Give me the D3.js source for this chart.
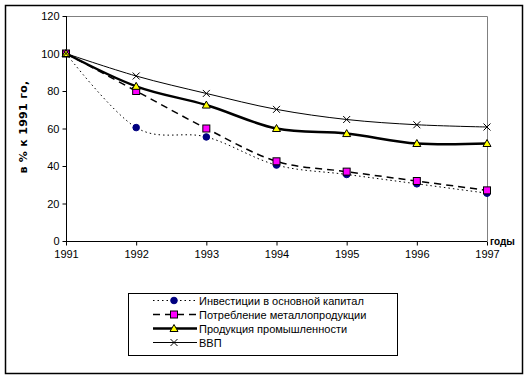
<!DOCTYPE html>
<html><head><meta charset="utf-8">
<script src="https://cdn.jsdelivr.net/npm/d3@7"></script>
<style>body{margin:0;background:#fff}svg{display:block}text{font-family:"Liberation Sans",Arial,sans-serif}</style>
</head><body><svg id="c" width="530" height="380"></svg>
<script>
const years = [1991, 1992, 1993, 1994, 1995, 1996, 1997];
const invest = [100, 60.5, 55.5, 40.5, 35.5, 30.5, 25.5];
const metal = [100, 80, 60, 42.5, 37, 32, 27];
const industry = [100, 82.5, 72.5, 60, 57.3, 52, 52];
const gdp = [100, 88, 78.7, 70.2, 64.8, 62, 60.8];
const yTicks = [0, 20, 40, 60, 80, 100, 120];
const seriesNames = ["Инвестиции в основной капитал", "Потребление металлопродукции", "Продукция промышленности", "ВВП"];
const yLabel = "в % к 1991 го,";
const xLabel = "годы";

const svg = d3.select("#c");
svg.append("rect").attr("x",5.5).attr("y",5.5).attr("width",517).attr("height",368).attr("fill","#fff").attr("stroke","#000").attr("stroke-width",1.5);

const L=66, R=487, T=16, B=241;
const x = d3.scaleLinear().domain([1991,1997]).range([L,R]);
const y = d3.scaleLinear().domain([0,120]).range([B,T]);

svg.append("path").attr("d",`M${L},${T+0.5}H${R+0.5}V${B}`).attr("fill","none").attr("stroke","#808080").attr("stroke-width",1);

const gy = svg.append("g").attr("transform",`translate(${L+0.5},0)`).call(d3.axisLeft(y).tickValues(yTicks).tickSize(4).tickPadding(3).tickFormat(d3.format("d")));
const gx = svg.append("g").attr("transform",`translate(0,${B+0.5})`).call(d3.axisBottom(x).tickValues(years).tickSize(4).tickPadding(5).tickFormat(d3.format("d")));
[gy,gx].forEach(g=>{g.selectAll("text").attr("font-size",11).attr("fill","#000").style("font-family","'Liberation Sans',Arial,sans-serif");g.selectAll("line,path").attr("stroke","#000");});
gx.select(".domain").attr("d",`M${L},0H${R}`);
gy.select(".domain").attr("d",`M0,${T}V${B}`);

svg.append("text").attr("transform","translate(27,127) rotate(-90)").attr("text-anchor","middle").attr("font-size",11).attr("font-weight","bold").style("font-family","'DejaVu Sans',sans-serif").attr("letter-spacing",0.3).text(yLabel);
svg.append("text").attr("x",490).attr("y",245).attr("font-size",10).attr("font-weight","bold").text(xLabel);

const styles = [
  {data:invest, width:1, dash:"1.5,3", marker:"circle", fill:"#000080"},
  {data:metal, width:1.5, dash:"7,5", marker:"square", fill:"#ff00ff"},
  {data:industry, width:2.5, dash:null, marker:"triangle", fill:"#ffff00"},
  {data:gdp, width:1, dash:null, marker:"cross", fill:"none"}
];
const line = d3.line().x((d,i)=>x(years[i])).y(d=>y(d)).curve(d3.curveCatmullRom.alpha(0));

function drawMarker(g, type, cx, cy, fill){
  if(type==="circle") g.append("circle").attr("cx",cx).attr("cy",cy).attr("r",3.3).attr("fill",fill).attr("stroke","#000080");
  else if(type==="square") g.append("rect").attr("x",cx-3.5).attr("y",cy-3.5).attr("width",7).attr("height",7).attr("fill",fill).attr("stroke","#000").attr("stroke-width",1);
  else if(type==="triangle") g.append("path").attr("d",`M${cx},${cy-4}L${cx+4},${cy+3}L${cx-4},${cy+3}Z`).attr("fill",fill).attr("stroke","#000").attr("stroke-width",1);
  else g.append("path").attr("d",`M${cx-3.5},${cy-3.5}L${cx+3.5},${cy+3.5}M${cx+3.5},${cy-3.5}L${cx-3.5},${cy+3.5}`).attr("stroke","#000").attr("stroke-width",1).attr("fill","none");
}

styles.forEach(s=>{
  svg.append("path").datum(s.data).attr("d",line).attr("fill","none").attr("stroke","#000").attr("stroke-width",s.width).attr("stroke-dasharray",s.dash);
});
styles.forEach(s=>{
  const g = svg.append("g");
  s.data.forEach((v,i)=>drawMarker(g,s.marker,x(years[i]),y(v),s.fill));
});

svg.append("rect").attr("x",128.5).attr("y",293.5).attr("width",269).attr("height",62).attr("fill","#fff").attr("stroke","#000").attr("stroke-width",1);
const rowY = [300.5, 314.5, 328.5, 342.5];
styles.forEach((s,i)=>{
  const g = svg.append("g");
  g.append("line").attr("x1",153).attr("x2",197).attr("y1",rowY[i]).attr("y2",rowY[i]).attr("stroke","#000").attr("stroke-width",s.width).attr("stroke-dasharray",s.dash);
  drawMarker(g,s.marker,174,rowY[i],s.fill);
  g.append("text").attr("x",199).attr("y",rowY[i]+4).attr("font-size",11).text(seriesNames[i]);
});
</script></body></html>
